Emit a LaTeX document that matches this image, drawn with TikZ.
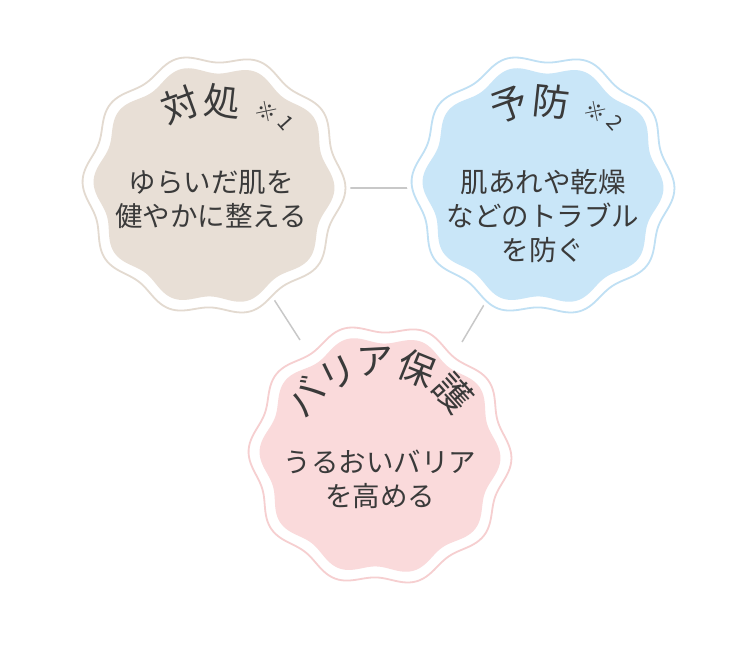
\documentclass[tikz,border=0pt]{standalone}
\usepackage{fontspec}
\setmainfont{Noto Sans CJK JP}
\definecolor{txt}{HTML}{3A3A3A}
\definecolor{begeF}{HTML}{E8DFD6}
\definecolor{begeO}{HTML}{E3DAD0}
\definecolor{blueF}{HTML}{C9E6F8}
\definecolor{blueO}{HTML}{C0E0F4}
\definecolor{pinkF}{HTML}{FADADB}
\definecolor{pinkO}{HTML}{F6CFD0}
\definecolor{conn}{HTML}{C8C8C8}
\tikzset{
  body/.style={text=txt,font=\fontsize{27.5}{34}\selectfont,align=center,inner sep=0},
  ttl/.style={text=txt,font=\fontsize{37}{37}\selectfont,inner sep=0},
  nt/.style={text=txt,font=\fontsize{21}{21}\selectfont,inner sep=0},
  link/.style={draw=conn,line width=1.5pt}
}
\newcommand{\wavy}[3]{%
  \begin{scope}[shift={#1}]
  \fill[white] plot[domain=0:360,samples=240,smooth cycle] (\x:{132+4.5*cos(10*\x+18)});
  \draw[#3,line width=1.8pt] plot[domain=0:360,samples=240,smooth cycle] (\x:{127+4.5*cos(10*\x+18)});
  \fill[#2] plot[domain=0:360,samples=240,smooth cycle] (\x:{116+4.5*cos(10*\x+18)});
  \end{scope}}
\usetikzlibrary{calc}
\begin{document}
\begin{tikzpicture}[x=1pt,y=1pt]
\useasboundingbox (0,0) rectangle (750,-650);
\coordinate (L) at (214,-185);
\coordinate (R) at (543,-185);
\coordinate (B) at (380,-455);
\coordinate (a1) at (340,-188);
\coordinate (a2) at (418,-188);
\coordinate (b1) at (273,-298);
\coordinate (b2) at (300,-340);
\coordinate (c1) at (488,-298);
\coordinate (c2) at (462,-342);
\draw[link] (a1) -- (a2);
\draw[link] (b1) -- (b2);
\draw[link] (c1) -- (c2);
\wavy{(L)}{begeF}{begeO}
\wavy{(R)}{blueF}{blueO}
\wavy{(B)}{pinkF}{pinkO}
% titles
\node[ttl,rotate=20] (t1) at ($(L)+(113:87)$) {対};
\node[ttl,rotate=-6] (t2) at ($(L)+(84:84)$) {処};
\node[nt,rotate=-33] (t3) at ($(L)+(54:90)$) {※};
\node[nt,rotate=-48] (t4) at ($(L)+(41:95)$) {1};
\node[ttl,rotate=20] (r1) at ($(R)+(113:87)$) {予};
\node[ttl,rotate=-6] (r2) at ($(R)+(84:84)$) {防};
\node[nt,rotate=-33] (r3) at ($(R)+(54:90)$) {※};
\node[nt,rotate=-48] (r4) at ($(R)+(41:95)$) {2};
\node[ttl,rotate=51] (p1) at ($(B)+(142:95)$) {バ};
\node[ttl,rotate=26] (p2) at ($(B)+(117:92)$) {リ};
\node[ttl,rotate=3] (p3) at ($(B)+(93:93)$) {ア};
\node[ttl,rotate=-22] (p4) at ($(B)+(67:94)$) {保};
\node[ttl,rotate=-48] (p5) at ($(B)+(40:96)$) {護};
% bodies
\node[body] (lb) at (211,-200) {ゆらいだ肌を\\健やかに整える};
\node[body] (rb) at (543,-216) {肌あれや乾燥\\などのトラブル\\を防ぐ};
\node[body] (bb) at (380,-479) {うるおいバリア\\を高める};
\end{tikzpicture}
\end{document}
